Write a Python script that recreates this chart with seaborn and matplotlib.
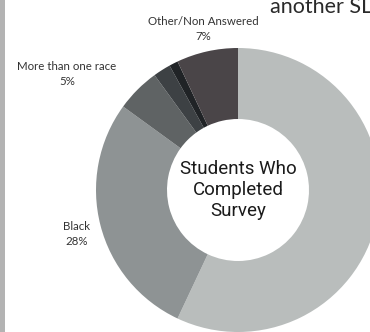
import matplotlib
matplotlib.use("Agg")
import matplotlib.pyplot as plt
import seaborn as sns

sns.set_theme(style="white")
plt.rcParams['font.family'] = ['Lato', 'DejaVu Sans']

# Data (clockwise from 12 o'clock)
categories = ["White", "Black", "More than one race", "Asian", "Hispanic", "Other/Non Answered"]
values = [57, 28, 5, 2, 1, 7]
shown_labels = {"Black": "Black\n28%",
                "More than one race": "More than one race\n5%",
                "Other/Non Answered": "Other/Non Answered\n7%"}
colors = ["#b9bdbc", "#8e9394", "#5f6364", "#3d4144", "#202326", "#4a4548"]
center_text = "Students Who\nCompleted\nSurvey"

W, H = 370, 332
fig = plt.figure(figsize=(W / 100, H / 100), dpi=100)
fig.patch.set_facecolor("white")
ax = fig.add_axes([0, 0, 1, 1])

cx, cy, R = 238, H - 190, 142
ax.pie(values, colors=colors, startangle=90, counterclock=False,
       radius=R, center=(cx, cy), wedgeprops=dict(width=R * 0.5, linewidth=0),
       frame=True)
ax.set_xlim(0, W)
ax.set_ylim(0, H)
ax.set_aspect('auto')
ax.axis('off')

# outside labels
label_pos = {"Other/Non Answered": (203, H - 29),
             "More than one race": (67, H - 74),
             "Black": (77, H - 234)}
for cat, txt in shown_labels.items():
    x, y = label_pos[cat]
    ax.text(x, y, txt, ha="center", va="center", fontsize=8.3,
            color="#333333", linespacing=1.35)

ax.text(cx, cy, center_text, ha="center", va="center", fontsize=13.5,
        color="#1a1a1a", linespacing=1.2, family=['Roboto', 'DejaVu Sans'])

# cropped title fragment at top right
ax.text(270, H - 13, "another SLU", ha="left", va="baseline", fontsize=15.5,
        color="#2a2a2a")

# left grey border
ax.axvspan(0, 4.5, color="#b3b3b3", linewidth=0)

fig.savefig("out.png", dpi=100, facecolor="white")
